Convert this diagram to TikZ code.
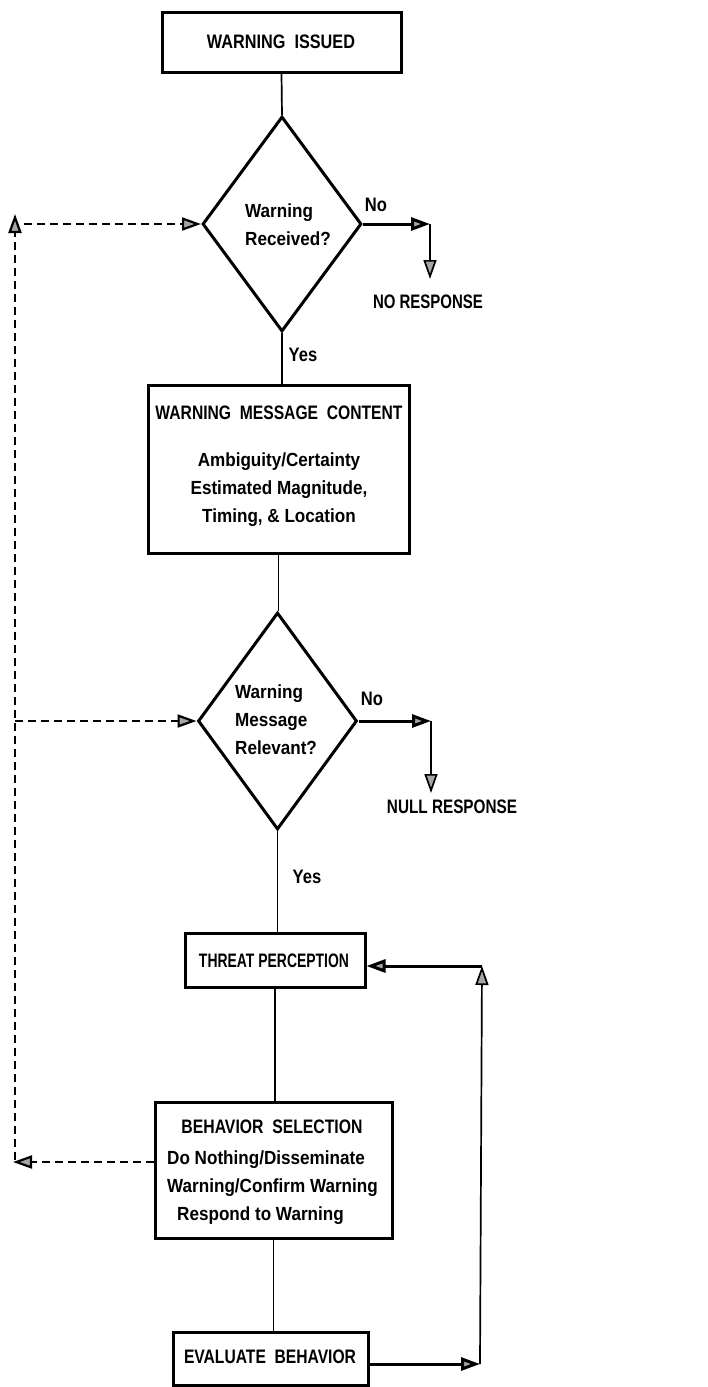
\documentclass[tikz,border=0pt]{standalone}
\usepackage{fontspec}
\setmainfont{Liberation Sans}
\newfontfamily\capsf{Liberation Sans}[FakeStretch=0.85]
\newfontfamily\lowf{Liberation Sans}[FakeStretch=0.9]
\newcommand{\fitw}[2]{\resizebox{#1}{\height}{#2}}
\usetikzlibrary{arrows.meta,shapes.geometric}
\begin{document}
\begin{tikzpicture}[x=1pt,y=-1pt,
  box/.style={draw,line width=3pt,inner sep=0pt},
  dia/.style={draw,diamond,line width=3pt,inner sep=0pt},
  ttl/.style={font=\fontsize{19.5}{24}\capsf\bfseries,inner sep=0pt},
  txt/.style={font=\fontsize{19}{28}\lowf\bfseries,inner sep=0pt},
  conn/.style={line width=1.7pt},
  tip/.style={-{Triangle[length=19pt,width=13pt,fill=gray!70]}},
  noarr/.style={line width=3pt},
  dsh/.style={line width=2.2pt,dash pattern=on 8pt off 5pt}]
\useasboundingbox (0,0) rectangle (707,1387);

% boxes
\node[box,minimum width=239pt,minimum height=60pt] (b1) at (281.5,42) {};
\node[ttl] (t1) at (281,42) {\fitw{148pt}{WARNING\ \ ISSUED}};

\node[dia,minimum width=159pt,minimum height=215pt] (d1) at (282,224) {};
\node[txt,align=left,anchor=west] (t2) at (245,225) {Warning\\Received?};

\node[box,minimum width=261pt,minimum height=168pt] (b2) at (278.5,469) {};
\node[ttl] (t3) at (279,413) {\fitw{247pt}{WARNING\ \ MESSAGE\ \ CONTENT}};
\node[txt,align=center] (t4) at (279,490) {Ambiguity/Certainty\\Estimated Magnitude,\\Timing, \& Location};

\node[dia,minimum width=159pt,minimum height=217pt] (d2) at (277.5,721) {};
\node[txt,align=left,anchor=west] (t5) at (235,720) {Warning\\Message\\Relevant?};

\node[box,minimum width=180pt,minimum height=54pt] (b3) at (275,960) {};
\node[ttl] (t6) at (274,961) {\fitw{150pt}{THREAT PERCEPTION}};

\node[box,minimum width=237pt,minimum height=136pt] (b4) at (273.5,1170) {};
\node[ttl] (t7) at (272,1127) {\fitw{181pt}{BEHAVIOR\ \ SELECTION}};
\node[txt,align=left,anchor=west] (t8) at (167,1188) {Do Nothing/Disseminate\\Warning/Confirm Warning\\\hspace*{10pt}Respond to Warning};

\node[box,minimum width=195pt,minimum height=53pt] (b5) at (270.5,1358.5) {};
\node[ttl] (t9) at (270,1357) {\fitw{172pt}{EVALUATE\ \ BEHAVIOR}};

% outcome labels
\node[ttl] (nr) at (428,302) {\fitw{110pt}{NO RESPONSE}};
\node[ttl] (nu) at (452,807) {\fitw{130pt}{NULL RESPONSE}};
\node[ttl] (no1) at (376,205) {No};
\node[ttl] (no2) at (372,699) {No};
\node[ttl] (y1) at (303,355) {Yes};
\node[ttl] (y2) at (307,877) {Yes};

% main connectors
\draw[conn] (b1.south) -- (d1.north);
\draw[conn] (d1.south) -- (d1.south |- b2.north);
\draw[conn] (b2.south) -- (b2.south |- d2.north);
\draw[conn] (d2.south) -- (d2.south |- b3.north);
\draw[conn] (b3.south) -- (b3.south |- b4.north);
\draw[conn] (b4.south) -- (b4.south |- b5.north);

% No branches
\coordinate (c1) at (430,224);
\coordinate (c1e) at (430,279);
\draw[noarr,tip] (d1.east) -- (c1);
\draw[conn,tip] (c1) -- (c1e);
\coordinate (c2) at (431,721);
\coordinate (c2e) at (431,793);
\draw[noarr,tip] (d2.east) -- (c2);
\draw[conn,tip] (c2) -- (c2e);

% feedback loop (solid)
\coordinate (r1) at (480,1364);
\coordinate (r2) at (482,966);
\draw[noarr,tip] (b5.east |- r1) -- (r1);
\draw[conn,tip] (r1) -- (r2);
\draw[noarr,tip] (r2) -- (b3.east |- r2);

% dashed feedback
\coordinate (l1) at (13,1162);
\coordinate (l2) at (15,1160);
\coordinate (l3) at (15,214);
\coordinate (l4) at (24,224);
\coordinate (l5) at (15,721);
\draw[dsh,tip] (b4.west |- l1) -- (l1);
\draw[dsh,tip] (l2) -- (l3);
\draw[dsh,tip] (l4) -- (d1.west);
\draw[dsh,tip] (l5) -- (d2.west);
\end{tikzpicture}
\end{document}
